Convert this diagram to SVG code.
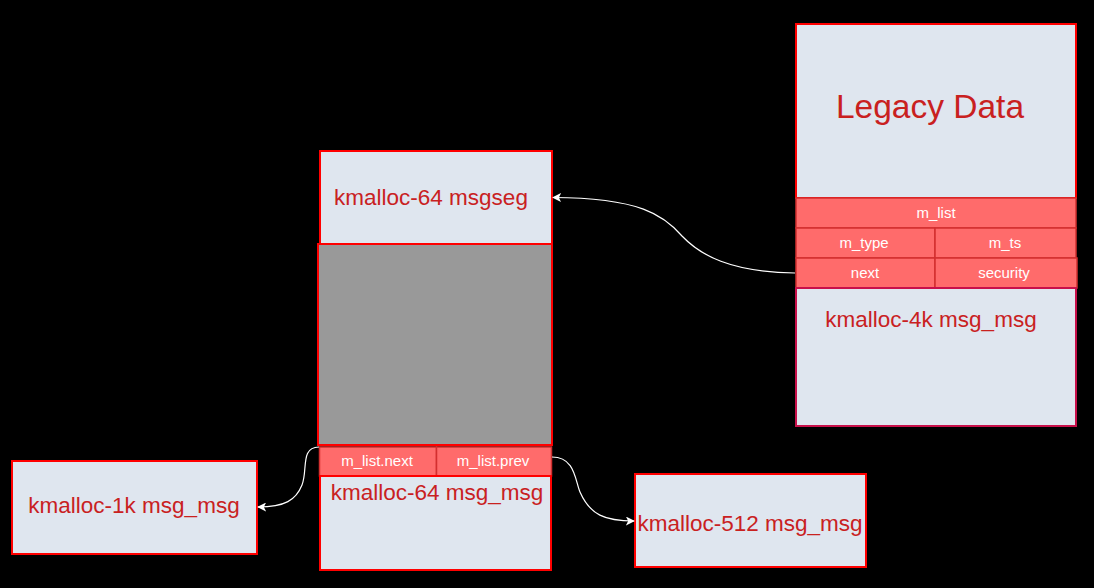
<svg xmlns="http://www.w3.org/2000/svg" width="1094" height="588" viewBox="0 0 1094 588">
<defs>
<style>
.box{fill:#dfe6ef;stroke:#ff0000;stroke-width:2}
.gray{fill:#999999;stroke:#ff0000;stroke-width:2}
.row{fill:#ff6b6b;stroke:#d32f2f;stroke-width:1.5}
.lbl{font-family:"Liberation Sans",Arial,sans-serif;fill:#c9211f;text-anchor:middle;font-size:22.5px}
.rt{font-family:"Liberation Sans",Arial,sans-serif;fill:#ffffff;text-anchor:middle;font-size:15px}
.conn{fill:none;stroke:#ffffff;stroke-width:1.2}
</style>
<marker id="arr" viewBox="0 0 10 10" refX="9" refY="5" markerWidth="9" markerHeight="9" markerUnits="userSpaceOnUse" orient="auto">
<path d="M0,0 L10,5 L0,10 L2.5,5 Z" fill="#ffffff"/>
</marker>
</defs>
<rect x="0" y="0" width="1094" height="588" fill="#000000"/>

<g id="msg4k">
<rect class="box" x="796" y="24" width="280" height="174"/>
<text class="lbl" x="930" y="118" style="font-size:33.5px">Legacy Data</text>
<rect class="row" x="796" y="198" width="280" height="30"/>
<text class="rt" x="936" y="218">m_list</text>
<rect class="row" x="796" y="228" width="139" height="30"/>
<rect class="row" x="935" y="228" width="141" height="30"/>
<text class="rt" x="864" y="248">m_type</text>
<text class="rt" x="1005" y="248">m_ts</text>
<rect class="row" x="796" y="258" width="139" height="30"/>
<rect class="row" x="935" y="258" width="142" height="30"/>
<text class="rt" x="865" y="278">next</text>
<text class="rt" x="1004" y="278">security</text>
<rect x="796" y="288" width="280" height="138" fill="#dfe6ef" stroke="#c8104a" stroke-width="2"/>
<text class="lbl" x="931" y="327">kmalloc-4k msg_msg</text>
</g>

<g id="msgseg">
<rect class="box" x="320" y="151" width="232" height="93"/>
<text class="lbl" x="431" y="205">kmalloc-64 msgseg</text>
</g>

<g id="gray">
<rect class="gray" x="318" y="244" width="234" height="201"/>
</g>

<g id="msg64">
<rect class="row" x="319.5" y="447" width="117" height="29"/>
<rect class="row" x="436.5" y="447" width="115" height="29"/>
<text class="rt" x="377" y="466">m_list.next</text>
<text class="rt" x="493" y="466">m_list.prev</text>
<rect class="box" x="320" y="476" width="231" height="94"/>
<text class="lbl" x="437" y="500">kmalloc-64 msg_msg</text>
</g>

<g id="msg1k">
<rect class="box" x="12" y="461" width="245" height="93"/>
<text class="lbl" x="134" y="513">kmalloc-1k msg_msg</text>
</g>

<g id="msg512">
<rect class="box" x="635" y="474" width="231" height="93"/>
<text class="lbl" x="750" y="531">kmalloc-512 msg_msg</text>
</g>

<g id="connectors">
<path class="conn" d="M795,273 C730,272 700,255 682,236 C664,215 640,198 553,197.5" marker-end="url(#arr)"/>
<path class="conn" d="M319,447 C300,447 308,470 302,485 C296,500 285,507 258,507" marker-end="url(#arr)"/>
<path class="conn" d="M552,457 C575,457 575,480 580,492 C590,515 605,521 634,521" marker-end="url(#arr)"/>
</g>
</svg>
